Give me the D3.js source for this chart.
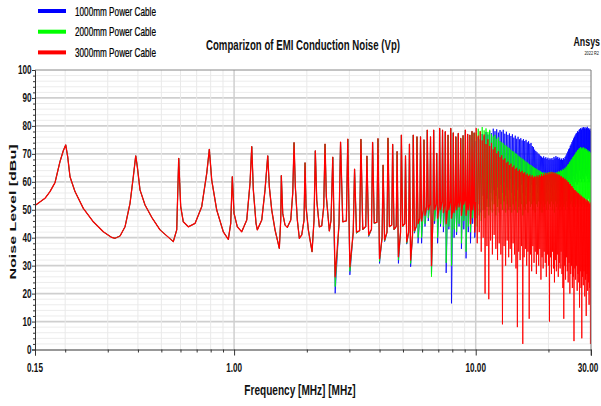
<!DOCTYPE html>
<html>
<head>
<meta charset="utf-8">
<script src="https://cdn.jsdelivr.net/npm/d3@7"></script>
<style>
  body { margin: 0; background: #fff; }
  svg { display: block; }
  text { font-family: "Liberation Sans", Arial, sans-serif; fill: #111; }
</style>
</head>
<body>
<svg id="chart" width="601" height="406"></svg>
<script>
// ---------------------------------------------------------------------------
// Conducted EMI noise (peak detector) for three power-cable lengths.
// Frequency in MHz, level in dBuV.
// ---------------------------------------------------------------------------
const seriesNames = ["1000mm Power Cable", "2000mm Power Cable", "3000mm Power Cable"];
const seriesColors = ["#0000ff", "#00ff00", "#ff0000"];

const xTickLabels = ["0.15", "1.00", "10.00", "30.00"];
const xTickValues = [0.15, 1, 10, 30];
const yTickValues = [0, 10, 20, 30, 40, 50, 60, 70, 80, 90, 100];

// Switching harmonic spacing (MHz)
const f0 = 0.197;

// 0.15 - 2.5 MHz: all three cable lengths give the same response
const lowBand = [
  [0.150, 51.5], [0.165, 54.1], [0.173, 56.5], [0.1815, 59.7], [0.1903, 67.2], [0.1964, 71.1],
  [0.2010, 73.2], [0.2048, 69.0], [0.2094, 61.8], [0.2196, 56.5], [0.2377, 50.5], [0.2615, 45.7],
  [0.2876, 42.1], [0.3116, 40.1], [0.3216, 39.8], [0.3373, 40.6], [0.3537, 43.9], [0.3710, 52.3],
  [0.3828, 61.8], [0.3917, 69.3], [0.3977, 65.4], [0.4080, 57.1], [0.4280, 51.7], [0.4562, 47.3],
  [0.4938, 42.8], [0.5604, 38.6], [0.5789, 42.8], [0.5900, 68.4], [0.6013, 51.1], [0.6164, 45.7],
  [0.6465, 43.9], [0.6893, 45.1], [0.7346, 51.1], [0.7705, 63.0], [0.7899, 71.6], [0.8081, 60.6],
  [0.8476, 49.9], [0.9025, 42.1], [0.9466, 39.4], [0.9685, 45.1], [0.9834, 61.8], [0.9995, 48.7],
  [1.0314, 43.9], [1.0756, 42.1], [1.1281, 46.3], [1.1641, 59.5], [1.1832, 72.6], [1.2014, 57.1],
  [1.2327, 45.1], [1.2480, 42.8], [1.3015, 46.3], [1.3431, 57.1], [1.3781, 69.3], [1.3993, 58.2],
  [1.4316, 49.9], [1.4773, 42.8], [1.5391, 36.2], [1.5597, 46.3], [1.5687, 62.2], [1.5898, 48.7],
  [1.6251, 44.5], [1.6611, 43.7], [1.7158, 46.3], [1.7489, 55.9], [1.7707, 74.0], [1.7928, 58.2],
  [1.8273, 46.3], [1.8624, 39.8], [1.9055, 41.0], [1.9477, 46.3], [1.9663, 66.8], [1.9851, 51.1],
  [2.0290, 42.8], [2.1019, 35.0], [2.1424, 46.3], [2.1691, 71.1], [2.1982, 53.5], [2.2533, 43.9],
  [2.3053, 44.2], [2.3497, 51.1], [2.3790, 73.5], [2.4087, 54.7], [2.4786, 42.4], [2.5191, 46.3]
];

// Harmonics 13..50: resonance peak, anti-resonance dip, level before the next peak
const midStart = 13;
const midPeak = [68.8, 74.2, 75.3, 64.5, 75.2, 69.2, 74.1, 75.4, 66.0, 75.6, 73.4, 70.8, 76.7, 69.3, 73.5, 76.7, 76.1,
                 76.1, 75.0, 78.5, 76.1, 78.5, 70.2, 79.1, 78.5, 77.9, 76.7, 79.1, 77.5, 76.1, 77.3, 75.5, 76.5, 78.5, 77.0, 76.7, 78.0, 77.5];
const midBase = [45, 46, 42, 42.5, 44, 43, 45.5, 40, 42, 44.5, 44, 42, 45, 42, 41, 44, 47,
                 50, 51, 52, 49, 52, 51, 53, 52, 50, 53, 50, 52, 53, 54, 52, 54, 52, 54, 52, 54, 53];
const midDipBlue = [20.1, 45.7, 26.7, 41.6, 42.8, 40.4, 45.1, 30.8, 38.6, 43.9, 42.8, 30.8, 43.9, 37.7, 29.6, 41.6, 38,
                    38, 44, 46, 27, 45, 38, 44, 42, 27.4, 43, 16.5, 40, 41, 44, 36, 43, 32.6, 42, 38, 45, 40];
const midDipGreen = [22.5, 45.7, 28, 41.6, 42.8, 40.6, 45.1, 31.5, 38.8, 43.9, 42.8, 32, 43.9, 38, 30.8, 42, 40,
                     40, 45, 47, 26, 46, 40, 45, 44, 31, 44, 30, 43, 42, 45, 38, 46, 35, 44, 42, 47, 44];
const midDipRed = [26, 45.7, 29.6, 42, 43, 41, 45.3, 32.5, 39.2, 44, 43, 33.2, 44.2, 38.5, 32, 42.5, 45,
                   46, 48, 50, 30, 50, 47, 50, 49, 45, 50, 47, 49, 50, 51, 48, 52, 48, 50, 45, 50, 42];

// Harmonics 51..152 (10 - 30 MHz): peak and trough of each harmonic
const hfStart = 51;
const hfPeakBlue = [
  74.5, 76.0, 75.2, 77.1, 76.3, 77.8, 76.9, 78.2, 77.4, 79.0,
  78.1, 78.8, 77.6, 78.5, 77.9, 78.6, 77.2, 77.9, 76.8, 77.3,
  76.4, 77.0, 75.8, 76.5, 75.4, 76.1, 75.2, 75.6, 74.8, 75.3,
  74.6, 75.0, 74.1, 74.5, 73.6, 73.9, 72.8, 72.4, 71.5, 71.0,
  70.6, 70.1, 69.8, 69.3, 69.0, 68.6, 69.1, 68.4, 68.8, 68.2,
  68.6, 67.9, 68.4, 68.0, 68.5, 67.8, 68.9, 68.3, 69.2, 68.6,
  68.9, 68.2, 68.6, 67.9, 68.3, 67.8, 68.5, 68.1, 68.9, 69.4,
  70.1, 70.8, 71.6, 72.0, 72.9, 73.4, 74.2, 74.8, 75.5, 76.1,
  76.6, 77.2, 77.5, 78.1, 77.8, 78.6, 78.9, 79.2, 78.7, 79.4,
  79.0, 79.6, 79.1, 79.5, 78.8, 79.3, 79.7, 78.9, 79.2, 78.6, 79.0, 78.2
];
const hfTroughBlue = [
  47, 52, 49, 55, 50, 54, 51, 56, 53, 57,
  55, 58, 54, 59, 56, 60, 55, 58, 57, 61,
  56, 59, 55, 60, 57, 58, 54, 59, 56, 60,
  55, 58, 57, 60, 56, 59, 55, 58, 57, 59,
  56, 58, 55, 59, 57, 58, 55, 60, 56, 59,
  57, 60, 56, 58, 55, 59, 57, 60, 56, 58,
  57, 59, 55, 60, 56, 58, 57, 59, 56, 60,
  57, 60, 58, 61, 57, 60, 59, 62, 58, 61,
  60, 63, 59, 62, 60, 64, 61, 63, 60, 62,
  61, 64, 60, 63, 62, 64, 61, 63, 60, 62, 61, 63
];
const hfPeakGreen = [
  77.5, 79.0, 78.2, 79.6, 78.4, 79.1, 77.8, 78.6, 77.0, 76.2,
  76.8, 75.4, 75.9, 74.6, 74.1, 73.8, 73.2, 72.9, 72.4, 72.0,
  71.5, 71.0, 70.8, 70.2, 70.0, 69.4, 69.0, 68.7, 68.3, 68.0,
  67.6, 67.2, 66.9, 66.5, 66.2, 66.0, 65.6, 65.3, 65.0, 64.8,
  64.5, 64.2, 64.0, 63.8, 63.5, 63.2, 63.4, 63.0, 63.3, 62.9,
  63.2, 63.5, 63.1, 63.6, 63.2, 63.4, 62.9, 63.3, 63.0, 63.5,
  63.2, 63.8, 63.5, 64.1, 63.9, 64.4, 64.2, 64.8, 64.6, 65.2,
  65.5, 66.1, 66.4, 67.0, 67.3, 67.9, 68.2, 68.8, 69.1, 69.6,
  70.0, 70.5, 70.8, 71.3, 71.5, 71.9, 72.1, 72.4, 71.8, 72.2,
  71.9, 72.3, 71.6, 72.0, 71.4, 71.7, 71.0, 71.3, 70.6, 70.9, 70.2, 70.5
];
const hfTroughGreen = [
  44, 48, 46, 50, 47, 51, 48, 50, 49, 52,
  48, 51, 49, 52, 50, 53, 49, 52, 50, 51,
  49, 52, 50, 53, 49, 51, 50, 52, 48, 51,
  50, 52, 49, 53, 51, 52, 50, 53, 49, 52,
  51, 53, 50, 52, 49, 53, 51, 52, 50, 53,
  50, 52, 51, 53, 50, 52, 49, 53, 51, 52,
  50, 53, 51, 52, 50, 53, 51, 52, 50, 53,
  51, 53, 50, 54, 52, 53, 51, 54, 52, 53,
  51, 54, 52, 53, 51, 54, 52, 53, 51, 54,
  52, 53, 51, 54, 52, 53, 51, 54, 52, 53, 51, 52
];
const hfPeakRed = [
  79.2, 76.5, 78.0, 74.8, 76.9, 73.5, 75.2, 72.8, 73.9, 71.6,
  72.4, 70.2, 70.9, 68.8, 69.5, 67.9, 68.4, 66.8, 67.2, 66.0,
  66.5, 65.2, 65.8, 64.6, 65.0, 63.9, 64.4, 63.5, 63.9, 63.0,
  63.4, 62.5, 62.9, 62.1, 62.6, 61.8, 62.3, 61.5, 62.0, 61.6,
  62.2, 61.7, 62.4, 61.9, 62.7, 62.1, 62.9, 62.3, 63.1, 62.5,
  63.2, 62.6, 63.4, 62.8, 63.5, 62.9, 63.3, 62.7, 63.1, 62.5,
  62.8, 62.2, 62.5, 61.8, 62.0, 61.3, 61.6, 60.9, 61.1, 60.4,
  60.5, 59.8, 59.9, 59.1, 59.2, 58.4, 58.5, 57.7, 57.6, 56.9,
  57.0, 56.3, 56.5, 55.8, 56.0, 55.2, 55.5, 54.7, 55.0, 54.2,
  54.6, 53.8, 54.2, 53.3, 53.8, 52.9, 53.4, 52.5, 53.0, 52.1, 52.6, 51.8
];
const hfTroughRed = [
  38, 42, 35, 40, 20, 37, 18, 39, 34, 41,
  36, 32, 38, 34, 9, 37, 30, 39, 33, 36,
  31, 38, 34, 29, 8, 35, 32, 37, 2, 33,
  36, 30, 35, 11, 34, 28, 37, 31, 35, 27,
  34, 30, 36, 25, 33, 29, 35, 31, 26, 34,
  30, 10, 33, 27, 35, 29, 24, 32, 28, 34,
  26, 31, 29, 35, 27, 22, 11, 30, 25, 33,
  28, 24, 31, 20, 27, 30, 22, 26, 3, 29,
  25, 30, 21, 27, 24, 15, 28, 22, 4, 26,
  23, 28, 19, 25, 12, 27, 21, 24, 16, 22, 2, 20
];

// ---------------------------------------------------------------------------
const W = 601, H = 406;
const plot = { left: 35, right: 591, top: 70, bottom: 349.5 };

const x = d3.scaleLog().domain([0.15, 30]).range([plot.left, plot.right]);
const y = d3.scaleLinear().domain([0, 100]).range([plot.bottom, plot.top]);

const svg = d3.select("#chart");

// Horizontally condensed label
function label(parent, px, py, str, opt) {
  const g = parent.append("g")
    .attr("transform", `translate(${px},${py}) scale(${opt.sx || 1},1)` + (opt.rotate ? ` rotate(${opt.rotate})` : ""));
  const t = g.append("text")
    .attr("text-anchor", opt.anchor || "start")
    .style("font-size", opt.size + "px")
    .style("font-weight", opt.weight || "normal")
    .text(str);
  if (opt.spacing) t.style("letter-spacing", opt.spacing + "px");
  return t;
}

// Grid
const grid = svg.append("g");
d3.range(2, 100, 2).forEach(v => {
  const major = v % 10 === 0;
  grid.append("line")
    .attr("x1", plot.left).attr("x2", plot.right)
    .attr("y1", y(v)).attr("y2", y(v))
    .attr("stroke", major ? "#cfcfcf" : "#ececec")
    .attr("stroke-width", major ? 1.8 : 1);
});
const vGrid = [0.2, 0.3, 0.4, 0.5, 0.6, 0.7, 0.8, 0.9, 1, 2, 3, 4, 5, 6, 7, 8, 9, 10, 20];
vGrid.forEach(f => {
  const major = f === 1 || f === 10;
  grid.append("line")
    .attr("x1", x(f)).attr("x2", x(f))
    .attr("y1", plot.top).attr("y2", plot.bottom)
    .attr("stroke", major ? "#cfcfcf" : "#e9e9e9")
    .attr("stroke-width", major ? 1.5 : 1);
});

// Build one polyline per cable length
function buildSeries(midDip, hfPeak, hfTrough) {
  const pts = lowBand.slice();
  midPeak.forEach((p, i) => {
    const n = midStart + i;
    pts.push([n * f0, p], [(n + 0.3) * f0, midDip[i]], [(n + 0.8) * f0, midBase[i]]);
  });
  hfPeak.forEach((p, i) => {
    const n = hfStart + i;
    pts.push([n * f0, p], [(n + 0.5) * f0, hfTrough[i]]);
  });
  return pts;
}
const series = [
  buildSeries(midDipBlue, hfPeakBlue, hfTroughBlue),
  buildSeries(midDipGreen, hfPeakGreen, hfTroughGreen),
  buildSeries(midDipRed, hfPeakRed, hfTroughRed)
];

svg.append("clipPath").attr("id", "plotClip")
  .append("rect")
  .attr("x", plot.left).attr("y", plot.top)
  .attr("width", plot.right - plot.left).attr("height", plot.bottom - plot.top);

const line = d3.line().x(d => x(d[0])).y(d => y(d[1]));
const traces = svg.append("g").attr("clip-path", "url(#plotClip)");

// Below 10 MHz the traces largely coincide, so the top (red) trace is drawn a
// little wider there to hide the others cleanly; above that it is drawn at
// normal weight so the shorter cables show through.
const wideCount = lowBand.length + midPeak.length * 3;
series.forEach((pts, i) => {
  const isTop = i === series.length - 1;
  if (isTop) {
    traces.append("path")
      .attr("d", line(pts.slice(0, wideCount)))
      .attr("fill", "none").attr("stroke", seriesColors[i])
      .attr("stroke-width", 1.3).attr("stroke-linejoin", "round");
    traces.append("path")
      .attr("d", line(pts.slice(wideCount - 1)))
      .attr("fill", "none").attr("stroke", seriesColors[i])
      .attr("stroke-width", 0.9).attr("stroke-linejoin", "round");
  } else {
    traces.append("path")
      .attr("d", line(pts))
      .attr("fill", "none").attr("stroke", seriesColors[i])
      .attr("stroke-width", 0.8).attr("stroke-linejoin", "round");
  }
});

// Frame
const frame = svg.append("g").attr("fill", "none");
frame.append("line").attr("x1", plot.left).attr("x2", plot.right).attr("y1", plot.top).attr("y2", plot.top).attr("stroke", "#888");
frame.append("line").attr("x1", plot.right).attr("x2", plot.right).attr("y1", plot.top).attr("y2", plot.bottom + 6).attr("stroke", "#777");

// Y axis
const yAxis = svg.append("g").attr("transform", `translate(${plot.left},0)`)
  .call(d3.axisLeft(y).tickValues(yTickValues).tickSize(3).tickFormat(""));
svg.append("g").attr("transform", `translate(${plot.left},0)`)
  .call(d3.axisLeft(y).tickValues(d3.range(0, 101, 2).filter(v => v % 10)).tickSize(2).tickFormat(""))
  .call(g => g.select(".domain").remove());
yAxis.select(".domain").attr("stroke", "#333");

yTickValues.forEach(v => {
  label(svg, 31.5, y(v) + 4, String(v), { size: 12, weight: "bold", anchor: "end", sx: 0.68 });
});

// X axis
const xAxis = svg.append("g").attr("transform", `translate(0,${plot.bottom})`)
  .call(d3.axisBottom(x).tickValues(xTickValues).tickSize(6).tickFormat(""));
svg.append("g").attr("transform", `translate(0,${plot.bottom})`)
  .call(d3.axisBottom(x).tickValues(vGrid.filter(f => f !== 1 && f !== 10)).tickSize(3).tickFormat(""))
  .call(g => g.select(".domain").remove());
xAxis.select(".domain").attr("stroke", "#333");
svg.selectAll(".tick line").attr("stroke", "#333");

xTickValues.forEach((v, i) => {
  label(svg, x(v) + (i === 3 ? -3 : 0), 372, xTickLabels[i], { size: 12, weight: "bold", anchor: "middle", sx: 0.68 });
});

// Axis titles
label(svg, 300, 395, "Frequency [MHz] [MHz]", { size: 14, weight: "bold", anchor: "middle", sx: 0.72 });
label(svg, 15.5, 212, "Noise Level [dBu]", { size: 16, weight: "bold", anchor: "middle", sx: 0.62, rotate: -90 });

// Title and branding
label(svg, 303, 50, "Comparizon of EMI Conduction Noise (Vp)", { size: 14, weight: "bold", anchor: "middle", sx: 0.69 });
label(svg, 600, 46, "Ansys", { size: 13, weight: "bold", anchor: "end", sx: 0.68 });
label(svg, 599, 54.5, "2022 R2", { size: 5.5, anchor: "end", sx: 0.7 });

// Legend
seriesNames.forEach((name, i) => {
  const ly = 11 + i * 20.7;
  svg.append("line")
    .attr("x1", 38).attr("x2", 66).attr("y1", ly).attr("y2", ly)
    .attr("stroke", seriesColors[i]).attr("stroke-width", 4);
  label(svg, 75, ly + 4.5, name, { size: 13, anchor: "start", sx: 0.63 })
    .style("fill", "#000").style("stroke", "#000").style("stroke-width", 0.25);
});
</script>
</body>
</html>
